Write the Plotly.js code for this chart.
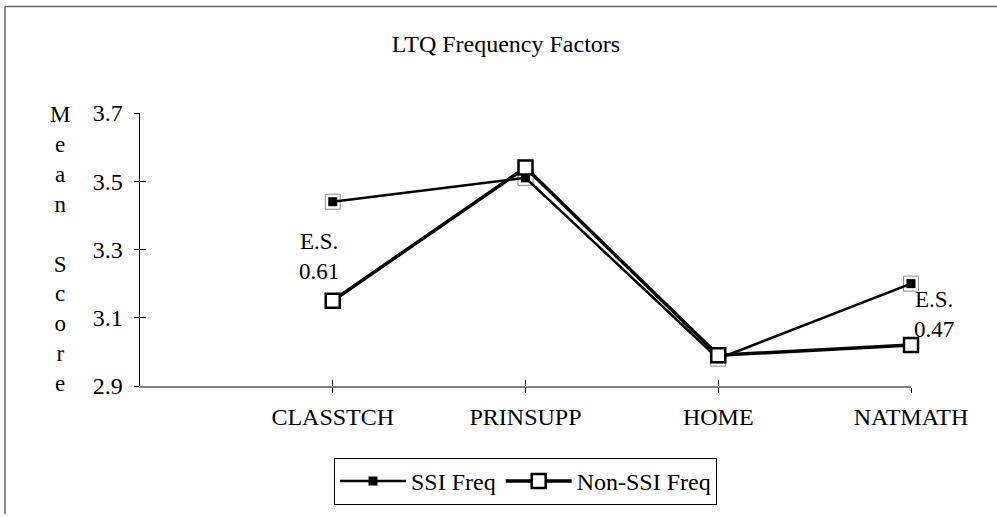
<!DOCTYPE html>
<html>
<head>
<meta charset="utf-8">
<script src="https://cdn.plot.ly/plotly-3.0.1.min.js"></script>
<style>
html,body{margin:0;padding:0;background:#fff;}
#chart{width:997px;height:517px;}
</style>
</head>
<body>
<div id="chart"></div>
<script>
const categories = ['CLASSTCH', 'PRINSUPP', 'HOME', 'NATMATH'];
const ssiFreq = [3.44, 3.51, 2.98, 3.20];
const nonSsiFreq = [3.15, 3.54, 2.99, 3.02];
const seriesNames = ['SSI Freq', 'Non-SSI Freq'];
const yTicks = [2.9, 3.1, 3.3, 3.5, 3.7];
const esLabels = [
  {cat: 'CLASSTCH', y: 3.28, text: 'E.S.<br>0.61'},
  {cat: 'NATMATH', y: 3.11, text: 'E.S.<br>0.47'}
];

const FONT = '"Liberation Serif", "Times New Roman", serif';

const traces = [
  {
    x: categories, y: ssiFreq, type: 'scatter', mode: 'markers', cliponaxis: false,
    marker: {symbol: 'square-open', size: 15, color: '#8a8a8a', line: {width: 1, color: '#8a8a8a'}},
    showlegend: false, hoverinfo: 'skip'
  },
  {
    x: categories, y: ssiFreq, type: 'scatter', mode: 'lines+markers', cliponaxis: false,
    name: seriesNames[0],
    line: {color: '#000', width: 2.5},
    marker: {symbol: 'square', size: 9, color: '#000', line: {width: 0}}
  },
  {
    x: categories, y: nonSsiFreq, type: 'scatter', mode: 'lines+markers', cliponaxis: false,
    name: seriesNames[1],
    line: {color: '#000', width: 3.5},
    marker: {symbol: 'square', size: 14, color: '#fff', line: {width: 2.5, color: '#000'}}
  },
  {
    x: [], y: [], xaxis: 'x2', yaxis: 'y2', type: 'scatter', mode: 'markers',
    showlegend: false, hoverinfo: 'skip'
  }
];

const annotations = esLabels.map((a, i) => ({
  x: a.cat, y: a.y, xref: 'x', yref: 'y', text: a.text, showarrow: false,
  xanchor: 'center', yanchor: 'middle', xshift: i === 0 ? -14 : 23,
  font: {family: FONT, size: 23, color: '#000'}, align: 'center'
}));
annotations.push({
  x: -0.1038, y: 0.5036, xref: 'paper', yref: 'paper',
  text: 'M<br>e<br>a<br>n<br> <br>S<br>c<br>o<br>r<br>e',
  showarrow: false, xanchor: 'center', yanchor: 'middle', align: 'center',
  font: {family: FONT, size: 23, color: '#000'}
});

const layout = {
  width: 997, height: 517,
  margin: {l: 140, r: 86, t: 113, b: 127, pad: 0},
  paper_bgcolor: '#fff', plot_bgcolor: '#fff',
  font: {family: FONT, size: 23, color: '#000'},
  title: {
    text: 'LTQ Frequency Factors',
    font: {family: FONT, size: 24, color: '#000'},
    xref: 'container', yref: 'container', x: 0.5075, y: 0.9149,
    xanchor: 'center', yanchor: 'middle'
  },
  xaxis: {
    type: 'category', categoryorder: 'array', categoryarray: categories,
    range: [-1, 3], showgrid: false, zeroline: false,
    showline: true, linecolor: '#808080', linewidth: 1.5,
    ticks: 'outside', ticklen: 5, tickcolor: '#000', tickwidth: 1,
    ticklabelstandoff: 4,
    tickfont: {family: FONT, size: 24, color: '#000'},
    fixedrange: true
  },
  yaxis: {
    range: [2.9, 3.7], tickvals: yTicks, ticktext: yTicks.map(v => v.toFixed(1)),
    showgrid: false, zeroline: false,
    showline: true, linecolor: '#000', linewidth: 1.5,
    ticks: 'outside', ticklen: 5, tickcolor: '#000', tickwidth: 1,
    ticklabelstandoff: 6,
    tickfont: {family: FONT, size: 24, color: '#000'},
    fixedrange: true
  },
  xaxis2: {
    overlaying: 'x', anchor: 'y', range: [-1, 3], tickvals: [0, 1, 2, 3],
    showticklabels: false, showgrid: false, zeroline: false, showline: false,
    ticks: 'inside', ticklen: 6, tickcolor: '#000', tickwidth: 1, side: 'bottom'
  },
  yaxis2: {
    overlaying: 'y', anchor: 'x', range: [2.9, 3.7], tickvals: yTicks,
    showticklabels: false, showgrid: false, zeroline: false, showline: false,
    ticks: 'inside', ticklen: 6, tickcolor: '#000', tickwidth: 1, side: 'left'
  },
  showlegend: true,
  legend: {
    orientation: 'h', x: 0.5, xanchor: 'center', y: -0.2635, yanchor: 'top',
    bordercolor: '#000', borderwidth: 1, bgcolor: '#fff',
    font: {family: FONT, size: 24, color: '#000'},
    itemwidth: 66, tracegroupgap: 0
  },
  annotations: annotations,
  shapes: [
    {type: 'line', xref: 'paper', yref: 'paper', x0: -0.1751, x1: 1.12, y0: 1.3899, y1: 1.3899,
     line: {color: '#666', width: 1.5}},
    {type: 'line', xref: 'paper', yref: 'paper', x0: -0.1751, x1: -0.1751, y0: 1.3899, y1: -0.47,
     line: {color: '#666', width: 1.5}}
  ]
};

Plotly.newPlot('chart', traces, layout, {displayModeBar: false, staticPlot: true});
</script>
</body>
</html>
